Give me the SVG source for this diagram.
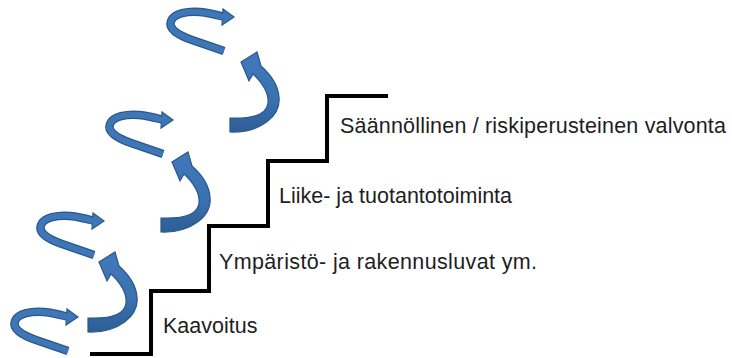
<svg xmlns="http://www.w3.org/2000/svg" xmlns:xlink="http://www.w3.org/1999/xlink" width="732" height="358" viewBox="0 0 732 358">
<style>
  .lbl { font-family: "Liberation Sans", Arial, sans-serif; font-size: 21.5px; fill: #1e1e1e; }
  .stair { fill: none; stroke: #000; stroke-width: 4; stroke-linejoin: miter; }
  .cOut { fill: none; stroke: #2b5889; stroke-width: 8.5; stroke-linecap: butt; }
  .cIn { fill: none; stroke: #3e77b8; stroke-width: 6; stroke-linecap: butt; }
  .head { fill: #3e77b8; stroke: #2b5889; stroke-width: 1.2; stroke-linejoin: miter; }
  .thick { fill: url(#tg); stroke: #2b5889; stroke-width: 1.2; stroke-linejoin: miter; }
</style>
<defs>
  <linearGradient id="tg" x1="0" y1="0" x2="0" y2="1">
    <stop offset="0" stop-color="#4079bb"/>
    <stop offset="0.6" stop-color="#3a71b0"/>
    <stop offset="1" stop-color="#2c5d96"/>
  </linearGradient>
  <g id="cArrow">
    <path class="cOut" d="M 224 51 L 192 40 C 178 35, 168 29, 171 21 C 174 13, 188 11, 200 12 C 210 13, 217 15, 225 17"/>
    <polygon class="head" points="223,9 234,17 222,25"/>
    <path class="cIn" d="M 224 51 L 192 40 C 178 35, 168 29, 171 21 C 174 13, 188 11, 200 12 C 210 13, 217 15, 223.5 17"/>
  </g>
  <path id="tArrow" class="thick" d="M 230 132 C 262 133, 281 115, 279 97 C 278 84, 270 74, 261 66 L 257 52 L 241 62 L 249 81 L 253 74 C 263 83, 269 94, 268 103 C 267 113, 255 119, 230 118 Z"/>
</defs>
<g id="arrows">
  <use id="c1" xlink:href="#cArrow"/>
  <use id="t1" xlink:href="#tArrow"/>
  <use id="c2" xlink:href="#cArrow" transform="translate(-61,103)"/>
  <use id="t2" xlink:href="#tArrow" transform="translate(-69,100)"/>
  <use id="c3" xlink:href="#cArrow" transform="translate(-130,204)"/>
  <use id="t3" xlink:href="#tArrow" transform="translate(-142,200)"/>
  <use id="c4" xlink:href="#cArrow" transform="translate(-156,300)"/>
</g>
<g id="stairs">
  <polyline class="stair" points="90,354 151,354 151,291 209,291 209,226 268,226 268,161 327,161 327,96 388,96"/>
</g>
<g id="step1"><text class="lbl" x="163" y="333">Kaavoitus</text></g>
<g id="step2"><text class="lbl" x="219" y="269" textLength="318" lengthAdjust="spacing">Ympäristö- ja rakennusluvat ym.</text></g>
<g id="step3"><text class="lbl" x="279" y="203">Liike- ja tuotantotoiminta</text></g>
<g id="step4"><text class="lbl" x="340" y="133" textLength="386" lengthAdjust="spacing">Säännöllinen / riskiperusteinen valvonta</text></g>
</svg>
